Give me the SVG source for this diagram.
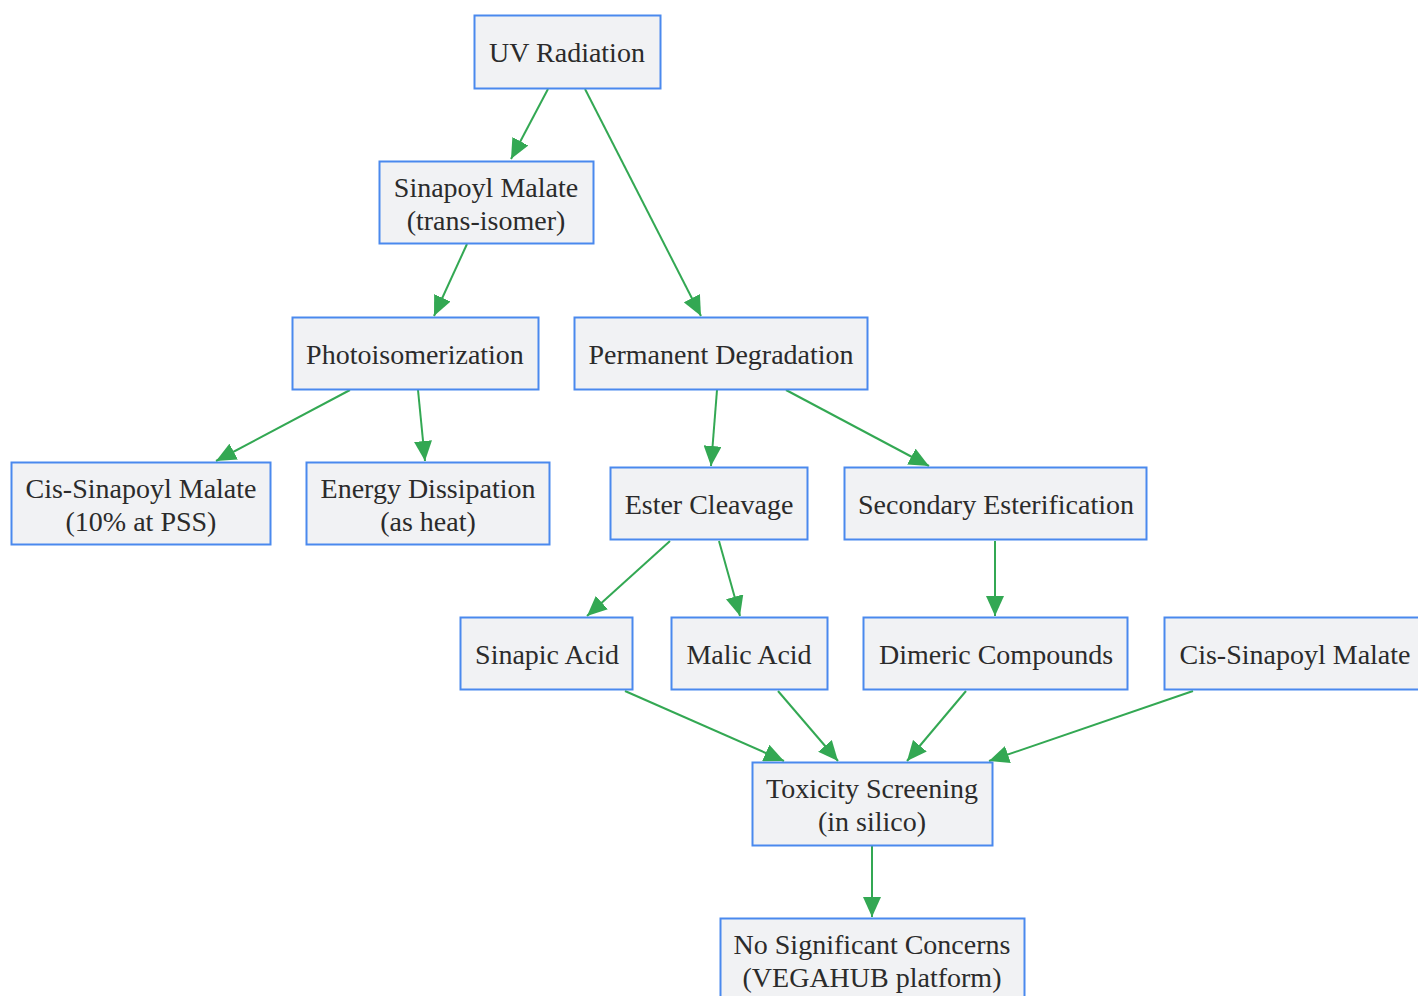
<svg xmlns="http://www.w3.org/2000/svg" width="1418" height="996" viewBox="0 0 1418 996">
<style>
.node rect{fill:#f1f2f4;stroke:#4a89ee;stroke-width:2}
.node text{font-family:"Liberation Serif","Times New Roman",serif;font-size:28px;fill:#2b2b2b;text-anchor:middle;dominant-baseline:central}
.edges line{stroke:#33a853;stroke-width:2;marker-end:url(#arr)}
</style>
<defs>
<marker id="arr" viewBox="0 0 20 18" refX="20" refY="9" markerWidth="20" markerHeight="18" markerUnits="userSpaceOnUse" orient="auto">
<path d="M0,0 L20,9 L0,18 z" fill="#33a853"/>
</marker>
</defs>
<rect width="1418" height="996" fill="#ffffff"/>
<g class="edges">
<line x1="548" y1="89" x2="511" y2="159"/>
<line x1="585" y1="89" x2="701" y2="316"/>
<line x1="467" y1="244" x2="434" y2="316"/>
<line x1="350" y1="390" x2="216" y2="461"/>
<line x1="418" y1="390" x2="425" y2="461"/>
<line x1="717" y1="390" x2="711" y2="466"/>
<line x1="786" y1="390" x2="929" y2="466"/>
<line x1="670" y1="541" x2="587" y2="616"/>
<line x1="719" y1="541" x2="740" y2="616"/>
<line x1="995" y1="541" x2="995" y2="616"/>
<line x1="625" y1="691" x2="784" y2="761"/>
<line x1="778" y1="691" x2="838" y2="761"/>
<line x1="966" y1="691" x2="907" y2="761"/>
<line x1="1193" y1="691" x2="989" y2="761"/>
<line x1="872" y1="846" x2="872" y2="917"/>
</g>
<g id="uv" class="node"><rect x="474.5" y="15.5" width="186" height="73"/><text x="567" y="52">UV Radiation</text></g>
<g id="sm" class="node"><rect x="379.5" y="161.5" width="214" height="82"/><text x="486" y="187">Sinapoyl Malate</text><text x="486" y="220">(trans-isomer)</text></g>
<g id="photo" class="node"><rect x="292.5" y="317.5" width="246" height="72"/><text x="415" y="354">Photoisomerization</text></g>
<g id="perm" class="node"><rect x="574.5" y="317.5" width="293" height="72"/><text x="721" y="354">Permanent Degradation</text></g>
<g id="cis1" class="node"><rect x="11.5" y="462.5" width="259" height="82"/><text x="141" y="488">Cis-Sinapoyl Malate</text><text x="141" y="521">(10% at PSS)</text></g>
<g id="energy" class="node"><rect x="306.5" y="462.5" width="243" height="82"/><text x="428" y="488">Energy Dissipation</text><text x="428" y="521">(as heat)</text></g>
<g id="ester" class="node"><rect x="610.5" y="467.5" width="197" height="72"/><text x="709" y="504">Ester Cleavage</text></g>
<g id="sec" class="node"><rect x="844.5" y="467.5" width="302" height="72"/><text x="996" y="504">Secondary Esterification</text></g>
<g id="sinapic" class="node"><rect x="460.5" y="617.5" width="172" height="72"/><text x="547" y="654">Sinapic Acid</text></g>
<g id="malic" class="node"><rect x="671.5" y="617.5" width="156" height="72"/><text x="749" y="654">Malic Acid</text></g>
<g id="dimeric" class="node"><rect x="863.5" y="617.5" width="264" height="72"/><text x="996" y="654">Dimeric Compounds</text></g>
<g id="cis2" class="node"><rect x="1164.5" y="617.5" width="262" height="72"/><text x="1295" y="654">Cis-Sinapoyl Malate</text></g>
<g id="tox" class="node"><rect x="752.5" y="762.5" width="240" height="83"/><text x="872" y="788">Toxicity Screening</text><text x="872" y="821">(in silico)</text></g>
<g id="nosig" class="node"><rect x="720.5" y="918.5" width="304" height="82"/><text x="872" y="944">No Significant Concerns</text><text x="872" y="977">(VEGAHUB platform)</text></g>
</svg>
